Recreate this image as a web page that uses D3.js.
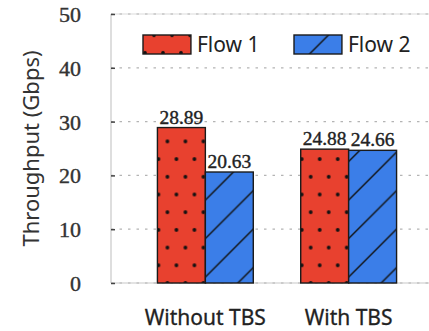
<!DOCTYPE html>
<html>
<head>
<meta charset="utf-8">
<script src="https://cdn.jsdelivr.net/npm/d3@7"></script>
<style>
  body { margin: 0; background: #fff; }
  svg { display: block; }
</style>
</head>
<body>
<div id="chart"></div>
<script>
const width = 429;
const height = 331;

// data
const categories = ['Without TBS', 'With TBS'];
const series = ['Flow 1', 'Flow 2'];
const flow1 = [28.89, 24.88];
const flow2 = [20.63, 24.66];
const yTicks = [0, 10, 20, 30, 40, 50];

const colors = { 'Flow 1': '#e8412f', 'Flow 2': '#3b7ee8' };
const patterns = { 'Flow 1': 'url(#dots)', 'Flow 2': 'url(#hatch)' };

const serif = "'Liberation Serif', 'DejaVu Serif', serif";
const sans = "'Noto Sans', 'DejaVu Sans', sans-serif";

const margin = { left: 111, top: 14, bottom: 283, right: 443 };

const svg = d3.select('#chart')
  .append('svg')
  .attr('width', width)
  .attr('height', height);

// patterns in user space, so legend swatches share the grid with the bars
const defs = svg.append('defs');
const dots = defs.append('pattern')
  .attr('id', 'dots')
  .attr('patternUnits', 'userSpaceOnUse')
  .attr('x', 163).attr('y', 265.3)
  .attr('width', 18).attr('height', 35.4);
dots.append('rect').attr('width', 18).attr('height', 35.4).attr('fill', colors['Flow 1']);
[[0, 0], [18, 0], [0, 35.4], [18, 35.4], [9, 17.7]].forEach(p => {
  dots.append('circle').attr('cx', p[0]).attr('cy', p[1]).attr('r', 1.9).attr('fill', '#111');
});

const hatch = defs.append('pattern')
  .attr('id', 'hatch')
  .attr('patternUnits', 'userSpaceOnUse')
  .attr('x', 0).attr('y', 363.5 % 38.5)
  .attr('width', 38.5).attr('height', 38.5);
hatch.append('rect').attr('width', 38.5).attr('height', 38.5).attr('fill', colors['Flow 2']);
hatch.append('path')
  .attr('d', 'M-5,5 L5,-5 M-5,43.5 L43.5,-5 M33.5,43.5 L43.5,33.5')
  .attr('stroke', '#111')
  .attr('stroke-width', 1.4);

const y = d3.scaleLinear().domain([0, 50]).range([margin.bottom, margin.top]);

const x0 = d3.scaleBand()
  .domain(categories)
  .range([margin.left, margin.right])
  .paddingInner(0.331)
  .paddingOuter(0.324);

const x1 = d3.scaleBand()
  .domain(series)
  .range([0, x0.bandwidth()]);

// frame
svg.append('line')
  .attr('x1', margin.left).attr('x2', width)
  .attr('y1', y(50)).attr('y2', y(50))
  .attr('stroke', '#dcdcdc').attr('stroke-width', 1.2);
svg.append('line')
  .attr('x1', margin.left).attr('x2', width)
  .attr('y1', y(0)).attr('y2', y(0))
  .attr('stroke', '#c8c8c8').attr('stroke-width', 1.2);
svg.append('line')
  .attr('x1', margin.left).attr('x2', margin.left)
  .attr('y1', y(0)).attr('y2', y(50))
  .attr('stroke', '#c8c8c8').attr('stroke-width', 1.2);

// grid
svg.append('g')
  .selectAll('line')
  .data(yTicks)
  .join('line')
  .attr('x1', margin.left).attr('x2', width)
  .attr('y1', d => y(d)).attr('y2', d => y(d))
  .attr('stroke', '#b4b4b4')
  .attr('stroke-width', 1.2)
  .attr('stroke-dasharray', '2.5,6');

// y axis
const yAxis = svg.append('g')
  .attr('transform', `translate(${margin.left},0)`)
  .call(d3.axisLeft(y).tickValues(yTicks).tickSize(-4).tickPadding(30));
yAxis.select('.domain').remove();
yAxis.attr('font-family', serif).attr('font-size', 22);
yAxis.selectAll('.tick line').attr('stroke', '#444').attr('stroke-width', 1.5);
yAxis.selectAll('.tick text')
  .style('font-family', serif)
  .style('font-size', '22px')
  .attr('fill', '#333')
  .attr('stroke', '#333')
  .attr('stroke-width', 0.4)
  .attr('dy', '0.34em');

svg.append('text')
  .attr('transform', `translate(39,${(y(0) + y(50)) / 2}) rotate(-90)`)
  .attr('text-anchor', 'middle')
  .style('font-family', sans)
  .style('font-size', '22px')
  .attr('fill', '#333')
  .text('Throughput (Gbps)');

// x labels
svg.append('g')
  .selectAll('text')
  .data(categories)
  .join('text')
  .attr('x', d => x0(d) + x0.bandwidth() / 2)
  .attr('y', 325)
  .attr('text-anchor', 'middle')
  .style('font-family', sans)
  .style('font-size', '21px')
  .attr('fill', '#222')
  .attr('stroke', '#222')
  .attr('stroke-width', 0.3)
  .text(d => d);

// bars
const rows = categories.map((c, i) => ({ cat: c, values: [
  { s: 'Flow 1', v: flow1[i] },
  { s: 'Flow 2', v: flow2[i] }
] }));

const groups = svg.append('g')
  .selectAll('g')
  .data(rows)
  .join('g')
  .attr('transform', d => `translate(${x0(d.cat)},0)`);

groups.selectAll('rect')
  .data(d => d.values)
  .join('rect')
  .attr('x', d => x1(d.s))
  .attr('y', d => y(d.v))
  .attr('width', x1.bandwidth())
  .attr('height', d => y(0) - y(d.v))
  .attr('fill', d => patterns[d.s])
  .attr('stroke', '#1a1a1a')
  .attr('stroke-width', 1.4);

groups.selectAll('text')
  .data(d => d.values)
  .join('text')
  .attr('x', d => x1(d.s) + x1.bandwidth() / 2)
  .attr('y', d => y(d.v) - 4)
  .attr('text-anchor', 'middle')
  .style('font-family', serif)
  .style('font-size', '19.5px')
  .attr('fill', '#222')
  .attr('stroke', '#222')
  .attr('stroke-width', 0.4)
  .text(d => d.v.toFixed(2));

// legend
const legend = svg.append('g');
const legendX = [143, 294];
series.forEach((s, i) => {
  legend.append('rect')
    .attr('x', legendX[i]).attr('y', 35)
    .attr('width', x1.bandwidth()).attr('height', 19)
    .attr('fill', patterns[s])
    .attr('stroke', '#1a1a1a')
    .attr('stroke-width', 1.4);
  legend.append('text')
    .attr('x', legendX[i] + x1.bandwidth() + 6)
    .attr('y', 52)
    .style('font-family', sans)
    .style('font-size', '21px')
    .attr('fill', '#222')
    .text(s);
});
</script>
</body>
</html>
